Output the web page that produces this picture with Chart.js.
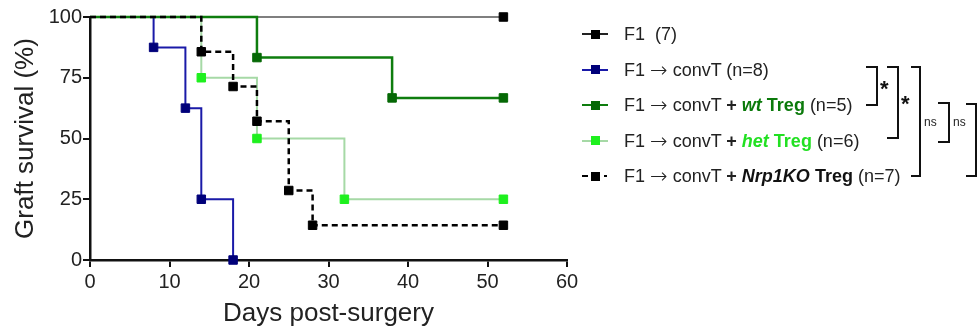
<!DOCTYPE html>
<html><head><meta charset="utf-8">
<script src="https://cdn.jsdelivr.net/npm/chart.js@4"></script>
<style>
html,body{margin:0;padding:0;background:#fff;}
#wrap{position:relative;width:979px;height:334px;overflow:hidden;font-family:"Liberation Sans",Arial,sans-serif;color:#222;}
#c{position:absolute;left:0;top:0;}
.row{position:absolute;left:624px;font-size:18px;line-height:20px;height:20px;white-space:nowrap;}
.ar{font-family:"DejaVu Sans",sans-serif;font-weight:200;font-size:21px;line-height:0;vertical-align:-1px;}
.ln{position:absolute;height:2px;}
.mk{position:absolute;width:9px;height:9px;}
.br{position:absolute;border:2px solid #111;border-left:none;box-sizing:border-box;}
.star{position:absolute;font-weight:bold;font-size:22px;line-height:22px;color:#111;}
.ns{position:absolute;font-size:12px;line-height:14px;color:#222;}
</style></head>
<body>
<div id="wrap">
<canvas id="c" width="979" height="334"></canvas>
<div id="legend"></div>
<div class="br" style="left:866px;top:66px;width:12px;height:40px"></div>
<div class="br" style="left:887px;top:66px;width:12px;height:73px"></div>
<div class="br" style="left:911px;top:66px;width:10px;height:111px"></div>
<div class="br" style="left:938px;top:102px;width:12px;height:41px"></div>
<div class="br" style="left:966px;top:103px;width:11px;height:74px"></div>
<div class="star" style="left:880px;top:78px">*</div>
<div class="star" style="left:901px;top:93px">*</div>
<div class="ns" style="left:924px;top:115px">ns</div>
<div class="ns" style="left:953px;top:115px">ns</div>
</div>
<script>
// ---- data ----
const xTicks = [0, 10, 20, 30, 40, 50, 60];
const yTicks = [0, 25, 50, 75, 100];
const f1Days   = [0, 52];
const f1Surv   = [100, 100];
const convDays = [0, 8, 12, 14, 18];
const convSurv = [100, 87.5, 62.5, 25, 0];
const wtDays   = [0, 21, 38, 52];
const wtSurv   = [100, 83.3, 66.7, 66.7];
const hetDays  = [0, 14, 21, 32, 52];
const hetSurv  = [100, 75, 50, 25, 25];
const koDays   = [0, 14, 18, 21, 25, 28, 52];
const koSurv   = [100, 85.7, 71.4, 57.1, 28.6, 14.3, 14.3];
const AR = '<span class="ar">\u2192</span>';
const seriesLabels = [
  'F1&nbsp;&nbsp;(7)',
  'F1 ' + AR + ' convT (n=8)',
  'F1 ' + AR + ' convT <b>+</b> <b style="color:#0b7a0b"><i>wt</i> Treg</b> (n=5)',
  'F1 ' + AR + ' convT <b>+</b> <b style="color:#22e022"><i>het</i> Treg</b> (n=6)',
  'F1 ' + AR + ' convT <b>+</b> <b style="color:#111"><i>Nrp1KO</i> Treg</b> (n=7)'
];

const pts = (xs, ys) => xs.map((x, i) => ({x: x, y: ys[i]}));
const rad = ctx => ctx.dataIndex === 0 ? 0 : 6;

// ---- legend (HTML) ----
const legendY = [34, 69.5, 105, 140.5, 176];
const legendStyle = [
  {line:'#222', mark:'#000'},
  {line:'#1a1aa8', mark:'#00007a'},
  {line:'#0e7d0e', mark:'#056805'},
  {line:'#a6d9a6', mark:'#1ef01e'},
  {line:'#000', mark:'#000', dashed:true}
];
const lg = document.getElementById('legend');
seriesLabels.forEach((t, i) => {
  const cy = legendY[i], st = legendStyle[i];
  let h = '';
  if (st.dashed) {
    h += `<div class="ln" style="left:582px;top:${cy-1}px;width:6px;background:${st.line}"></div>`;
    h += `<div class="ln" style="left:604px;top:${cy-1}px;width:3px;background:${st.line}"></div>`;
  } else {
    h += `<div class="ln" style="left:582px;top:${cy-1}px;width:26px;background:${st.line}"></div>`;
  }
  h += `<div class="mk" style="left:591px;top:${cy-4.5}px;background:${st.mark}"></div>`;
  h += `<div class="row" style="top:${cy-10}px">${t}</div>`;
  lg.insertAdjacentHTML('beforeend', h);
});

// ---- chart ----
const common = {stepped: true, pointStyle: 'rect', pointRadius: rad, pointHoverRadius: rad, clip: false, fill: false};
new Chart(document.getElementById('c'), {
  type: 'line',
  data: {
    datasets: [
      Object.assign({label:'F1 (7)', data: pts(f1Days, f1Surv), borderColor:'#555', borderWidth:1.5,
        pointBackgroundColor:'#000', pointBorderColor:'#000', pointBorderWidth:1, order:5}, common),
      Object.assign({label:'F1 → convT (n=8)', data: pts(convDays, convSurv), borderColor:'#1a1aa8', borderWidth:2,
        pointBackgroundColor:'#00007a', pointBorderColor:'#00007a', pointBorderWidth:1, order:4}, common),
      Object.assign({label:'F1 → convT + het Treg (n=6)', data: pts(hetDays, hetSurv), borderColor:'#a6d9a6', borderWidth:2,
        pointBackgroundColor:'#1ef01e', pointBorderColor:'#1ef01e', pointBorderWidth:1, order:3}, common),
      Object.assign({label:'F1 → convT + wt Treg (n=5)', data: pts(wtDays, wtSurv), borderColor:'#0e7d0e', borderWidth:2.5,
        pointBackgroundColor:'#056805', pointBorderColor:'#056805', pointBorderWidth:1, order:2}, common),
      Object.assign({label:'F1 → convT + Nrp1KO Treg (n=7)', data: pts(koDays, koSurv), borderColor:'#000', borderWidth:2.5,
        borderDash:[6,4], pointBackgroundColor:'#000', pointBorderColor:'#000', pointBorderWidth:1, order:1}, common)
    ]
  },
  options: {
    responsive: false, animation: false, devicePixelRatio: 1,
    layout: {padding: {left: 0, top: 17, right: 412, bottom: 0}},
    plugins: {legend: {display: false}, tooltip: {enabled: false}},
    events: [],
    scales: {
      x: {
        type: 'linear', min: 0, max: 60,
        afterBuildTicks: s => { s.ticks = xTicks.map(v => ({value: v})); },
        afterFit: s => { s.height = 74; },
        ticks: {autoSkip: false, maxRotation: 0, font: {size: 20, family: '"Liberation Sans", Arial, sans-serif'}, color: '#222', padding: 3},
        grid: {drawOnChartArea: false, drawTicks: true, tickLength: 7, color: '#111', lineWidth: 2},
        border: {color: '#111', width: 2.5},
        title: {display: true, text: 'Days post-surgery', color: '#222',
          font: {size: 26, family: '"Liberation Sans", Arial, sans-serif'}, padding: {top: 0, bottom: 5}}
      },
      y: {
        type: 'linear', min: 0, max: 100,
        afterBuildTicks: s => { s.ticks = yTicks.map(v => ({value: v})); },
        afterFit: s => { s.width = 90; },
        ticks: {autoSkip: false, font: {size: 20, family: '"Liberation Sans", Arial, sans-serif'}, color: '#222', padding: 1},
        grid: {drawOnChartArea: false, drawTicks: true, tickLength: 7, color: '#111', lineWidth: 2},
        border: {color: '#111', width: 2.5},
        title: {display: true, text: 'Graft survival (%)', color: '#222',
          font: {size: 26, family: '"Liberation Sans", Arial, sans-serif'}, padding: {top: 10, bottom: 0}}
      }
    }
  }
});
</script>
</body></html>
